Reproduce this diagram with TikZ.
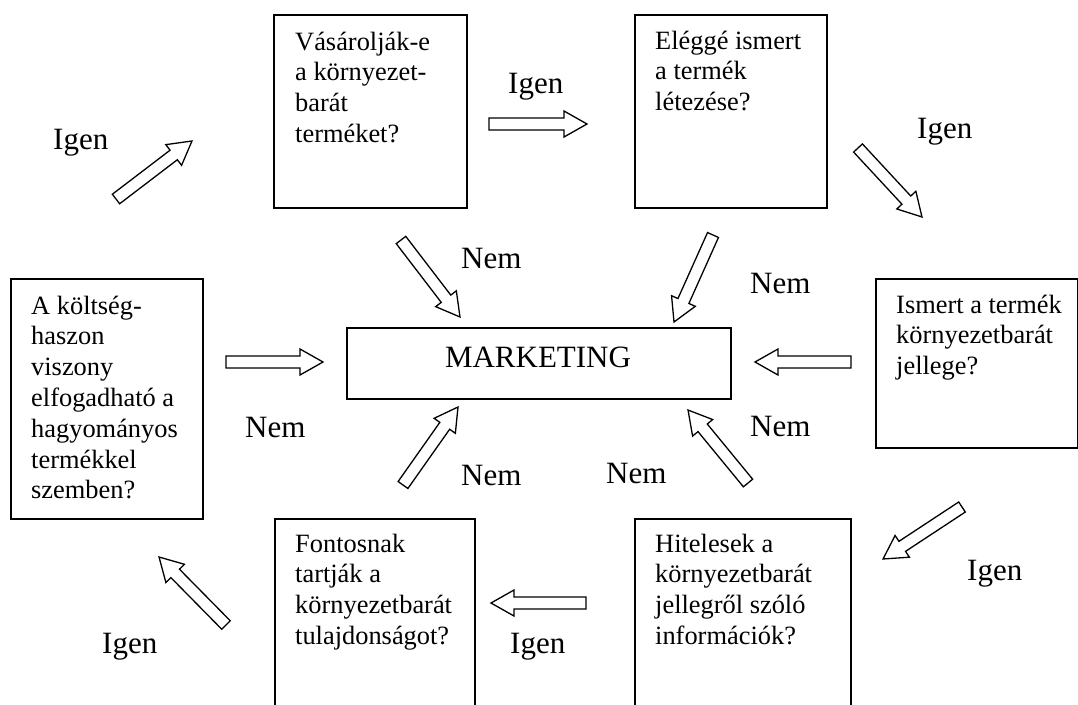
\documentclass[tikz,border=0pt]{standalone}
\usepackage{fontspec}
\setmainfont{Liberation Serif}
\usetikzlibrary{calc}

\tikzset{
  boxline/.style={draw, line width=1.8pt, inner sep=0pt, anchor=north west},
  qtext/.style={anchor=base west, inner sep=0pt, font=\fontsize{26.4pt}{30.8pt}\selectfont},
  yesno/.style={anchor=base west, inner sep=0pt, font=\fontsize{31pt}{36pt}\selectfont},
  arrowline/.style={draw, fill=white, line width=1.3pt, line join=miter},
}

% hollow block arrow from coordinate #1 (tail) to coordinate #2 (tip)
\newcommand\hollowarrow[2]{%
  \pgfpointdiff{\pgfpointanchor{#1}{center}}{\pgfpointanchor{#2}{center}}%
  \pgfgetlastxy{\arrdx}{\arrdy}%
  \pgfmathsetmacro\arrang{atan2(\arrdy,\arrdx)}%
  \pgfmathsetmacro\arrlen{veclen(\arrdx,\arrdy)}%
  \pgfmathsetmacro\arrbase{\arrlen-23}%
  \begin{scope}[shift={(#1)}, rotate=\arrang]
    \draw[arrowline] (0pt,-6pt) -- (\arrbase pt,-6pt) -- (\arrbase pt,-13pt)
      -- (\arrlen pt,0pt) -- (\arrbase pt,13pt) -- (\arrbase pt,6pt)
      -- (0pt,6pt) -- cycle;
  \end{scope}}

\begin{document}
\begin{tikzpicture}[x=1pt, y=-1pt]
\useasboundingbox (0,0) rectangle (1078,704);

% question boxes
\node[boxline, minimum width=193pt, minimum height=193pt] (buy) at (273,14) {};
\node[boxline, minimum width=192pt, minimum height=193pt] (known) at (634,14) {};
\node[boxline, minimum width=202pt, minimum height=169pt] (green) at (875,278) {};
\node[boxline, minimum width=192pt, minimum height=240pt] (cost) at (10,278) {};
\node[boxline, minimum width=200pt, minimum height=190pt] (important) at (274,518) {};
\node[boxline, minimum width=216pt, minimum height=190pt] (credible) at (634,518) {};
\node[boxline, minimum width=384pt, minimum height=71pt] (mk) at (346,327) {};

% box texts
\node[qtext] (tbuy) at (295,50) {\parbox[t]{180pt}{Vásárolják-e\\a környezet-\\barát\\terméket?}};
\node[qtext] (tknown) at (655,49) {\parbox[t]{180pt}{Eléggé ismert\\a termék\\létezése?}};
\node[qtext] (tgreen) at (896,313) {\parbox[t]{180pt}{Ismert a termék\\környezetbarát\\jellege?}};
\node[qtext] (tcost) at (31,314) {\parbox[t]{180pt}{A költség-\\haszon\\viszony\\elfogadható a\\hagyományos\\termékkel\\szemben?}};
\node[qtext] (timportant) at (295,552) {\parbox[t]{180pt}{Fontosnak\\tartják a\\környezetbarát\\tulajdonságot?}};
\node[qtext] (tcredible) at (655,552) {\parbox[t]{200pt}{Hitelesek a\\környezetbarát\\jellegről szóló\\információk?}};
\node[anchor=base, inner sep=0pt, font=\fontsize{31pt}{36pt}\selectfont] (tmk) at (538,367) {MARKETING};

% arrow end points
\coordinate (a1s) at (116,199);  \coordinate (a1e) at (192,141);
\coordinate (a2s) at (489,124);  \coordinate (a2e) at (587,124);
\coordinate (a3s) at (858,148);  \coordinate (a3e) at (922,217);
\coordinate (a4s) at (401,240);  \coordinate (a4e) at (460,317);
\coordinate (a5s) at (713,235);  \coordinate (a5e) at (674,322);
\coordinate (a6s) at (226,362);  \coordinate (a6e) at (323,362);
\coordinate (a7s) at (851,362);  \coordinate (a7e) at (755,362);
\coordinate (a8s) at (403,485);  \coordinate (a8e) at (458,407);
\coordinate (a9s) at (748,483);  \coordinate (a9e) at (688,410);
\coordinate (a10s) at (962,507); \coordinate (a10e) at (883,559);
\coordinate (a11s) at (586,603); \coordinate (a11e) at (491,603);
\coordinate (a12s) at (226,625); \coordinate (a12e) at (159,557);

\hollowarrow{a1s}{a1e}
\hollowarrow{a2s}{a2e}
\hollowarrow{a3s}{a3e}
\hollowarrow{a4s}{a4e}
\hollowarrow{a5s}{a5e}
\hollowarrow{a6s}{a6e}
\hollowarrow{a7s}{a7e}
\hollowarrow{a8s}{a8e}
\hollowarrow{a9s}{a9e}
\hollowarrow{a10s}{a10e}
\hollowarrow{a11s}{a11e}
\hollowarrow{a12s}{a12e}

% answer labels
\node[yesno] (y1) at (53,149) {Igen};
\node[yesno] (y2) at (508,93) {Igen};
\node[yesno] (y3) at (917,138) {Igen};
\node[yesno] (y4) at (967,580) {Igen};
\node[yesno] (y5) at (510,653) {Igen};
\node[yesno] (y6) at (102,653) {Igen};
\node[yesno] (n1) at (461,268) {Nem};
\node[yesno] (n2) at (750,293) {Nem};
\node[yesno] (n3) at (245,437) {Nem};
\node[yesno] (n4) at (750,436) {Nem};
\node[yesno] (n5) at (461,485) {Nem};
\node[yesno] (n6) at (606,483) {Nem};
\end{tikzpicture}
\end{document}
